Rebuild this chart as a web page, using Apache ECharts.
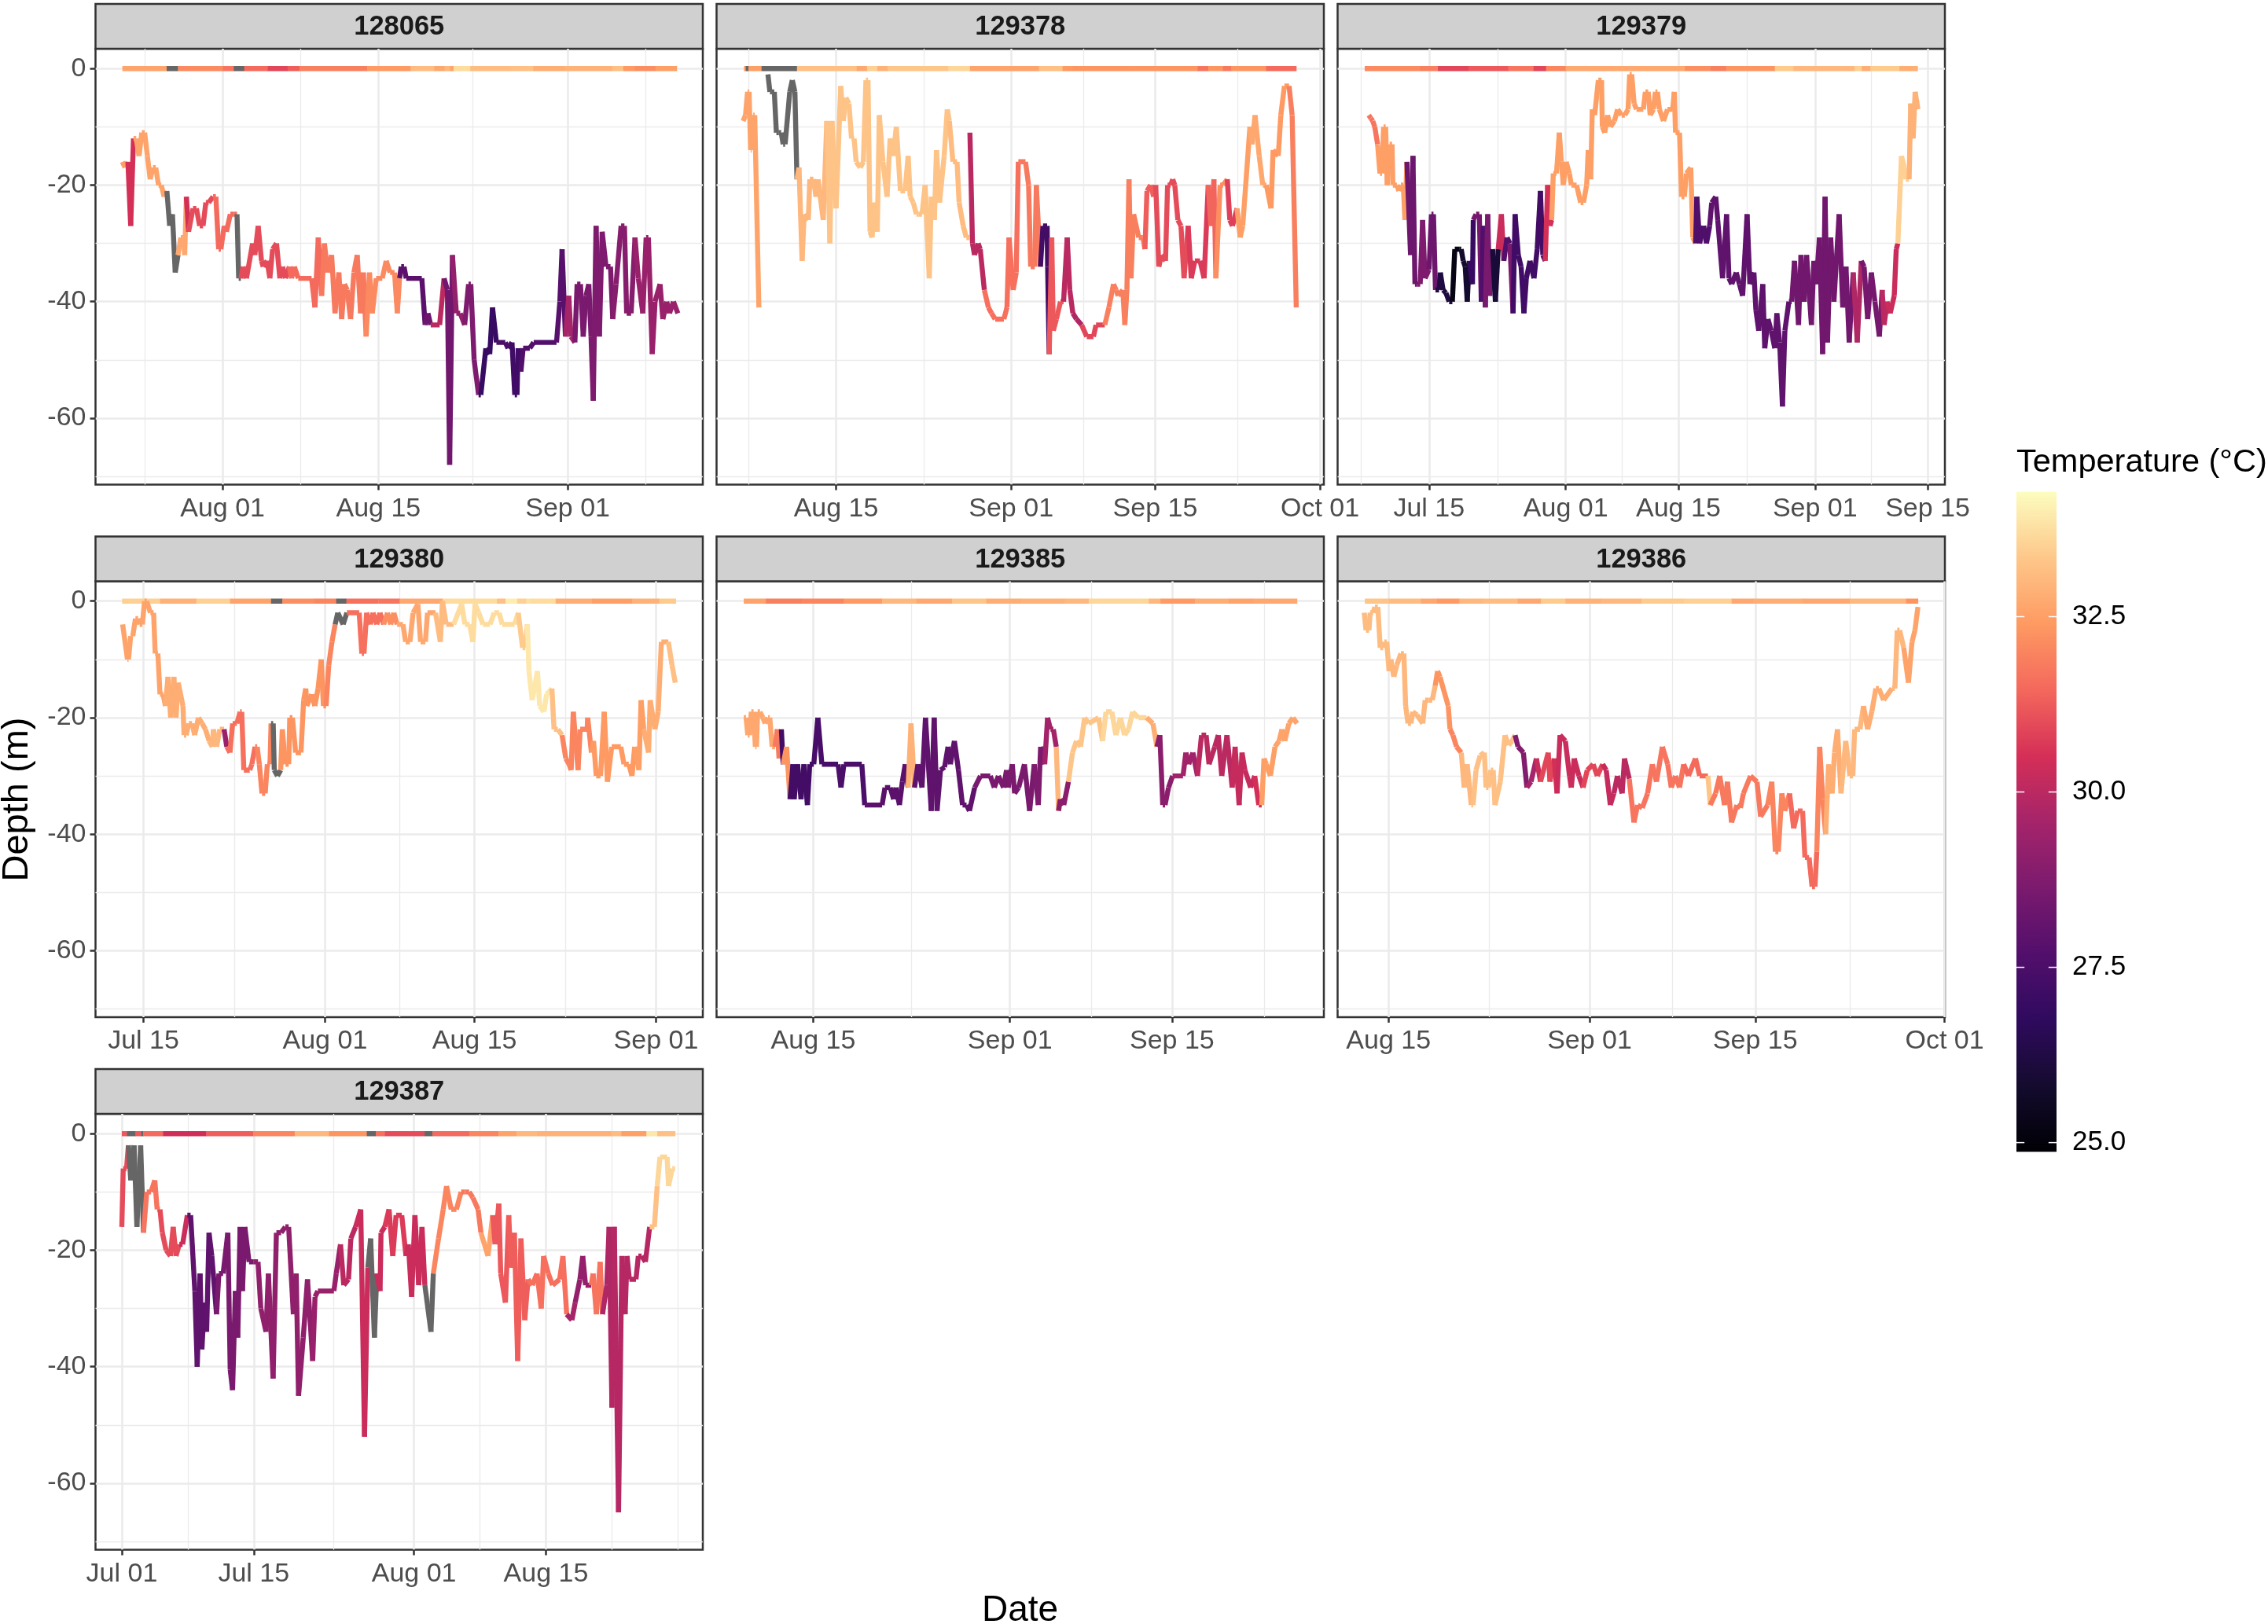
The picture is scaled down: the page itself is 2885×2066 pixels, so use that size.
<!DOCTYPE html>
<html>
<head>
<meta charset="utf-8">
<title>Depth and temperature tracks</title>
<script src="https://cdn.jsdelivr.net/npm/echarts@6/dist/echarts.min.js"></script>
<style>
  html, body { margin: 0; padding: 0; background: #fff; }
  #chart { width: 2885px; height: 2066px; }
</style>
</head>
<body>
<div id="chart"></div>
<script>
// x is days since Jul 01. each track is [day, depth], each run is [end day, temperature], null = no reading
const track128065 = [[22,-16],[22.25,-17],[22.5,-16],[22.75,-27],[23,-12],[23.25,-12],[23.5,-15],[23.75,-11],[24,-11],[24.25,-15],[24.5,-19],[24.75,-17],[25,-17],[25.25,-20],[25.5,-20],[25.75,-22],[26,-21],[26.25,-27],[26.5,-25],[26.75,-35],[27,-32],[27.25,-29],[27.5,-29],[27.6,-32],[27.75,-22],[27.95,-28],[28.35,-24],[28.65,-24],[28.95,-27],[29.25,-27],[29.5,-23],[29.75,-23],[30.15,-22],[30.4,-22],[30.65,-31],[30.85,-31],[31.15,-27],[31.35,-28],[31.7,-25],[32,-25],[32.3,-25],[32.45,-36],[32.65,-36],[32.85,-34],[33.15,-36],[33.7,-30],[33.9,-32],[34.2,-27],[34.5,-33],[34.65,-34],[35,-33],[35.25,-36],[35.5,-31],[35.85,-30],[36.15,-36],[36.4,-34],[36.65,-36],[37,-34],[37.2,-36],[37.45,-34],[37.8,-36],[39,-36],[39.3,-41],[39.6,-29],[39.9,-39],[40.15,-30],[40.45,-35],[40.8,-32],[41.1,-42],[41.45,-35],[41.7,-43],[41.95,-37],[42.2,-38],[42.5,-43],[42.8,-35],[43.1,-32],[43.4,-42],[43.65,-35],[43.9,-46],[44.2,-35],[44.45,-42],[44.8,-36],[45.35,-36],[45.7,-33],[46.05,-35],[46.45,-35],[46.7,-42],[46.9,-36],[47.05,-34],[47.3,-34],[47.5,-36],[48.9,-36],[49.2,-44],[49.45,-42],[49.7,-44],[50.5,-44],[50.9,-36],[51.2,-38],[51.4,-68],[51.65,-32],[52,-42],[52.35,-42],[52.75,-44],[53.1,-37],[53.3,-37],[53.6,-50],[54,-56],[54.2,-56],[54.65,-48],[55,-49],[55.25,-41],[55.6,-47],[56.4,-47],[56.65,-48],[57,-47],[57.25,-56],[57.45,-56],[57.55,-48],[57.8,-52],[58,-48],[58.6,-48],[58.95,-47],[61,-47],[61.3,-40],[61.5,-31],[61.8,-46],[62.1,-39],[62.3,-46],[62.65,-47],[62.85,-37],[63.15,-37],[63.4,-46],[63.65,-39],[63.9,-37],[64.1,-46],[64.3,-57],[64.55,-27],[64.85,-46],[65.1,-28],[65.45,-34],[65.85,-34],[66.05,-43],[66.35,-37],[66.8,-27],[67.1,-27],[67.3,-42],[67.7,-42],[68.05,-29],[68.35,-36],[68.75,-42],[69.05,-29],[69.25,-29],[69.6,-49],[69.85,-40],[70.3,-37],[70.55,-43],[70.9,-40],[71.15,-42],[71.5,-40],[71.9,-42]];
const temp128065 = [[22.6,32.5],[23,30.5],[25.9,32.6],[27,null],[27.7,32.7],[28.1,30.5],[30,31],[32.2,31.5],[32.7,null],[37,31],[40,31.5],[44,31.8],[46.9,32.1],[49.25,27.9],[49.8,28.3],[50.9,30],[51.7,28.4],[52.8,29.2],[54.05,28.7],[55.7,27],[57,27.5],[57.7,27.2],[61,27.7],[61.8,27.8],[62.7,29.6],[64,28.6],[66,28.7],[68,28.9],[72,29.3]];
const surface128065 = [[25.98,32.6],[27,null],[31,32.1],[32,31.7],[32.95,null],[35.06,31.5],[36.85,30.9],[37.9,31.3],[44,31.9],[47.9,32.4],[50,33.1],[50.95,32.7],[51.45,33],[51.75,32.6],[53.25,33.7],[56.95,33.1],[58.9,33.2],[61.8,32.8],[66,32.9],[67,33.2],[68,32.4],[69.9,32.2],[71.8,32.5]];

const track129378 = [[35.97,-9],[36.2,-8],[36.4,-4],[36.55,-4],[36.7,-14],[36.8,-14],[36.95,-8],[37.1,-8],[37.5,-41],[38,null],[38.38,-1],[38.57,-4],[38.77,-4],[39,-4],[39.2,-11],[39.43,-11],[39.67,-11],[39.86,-13],[40.05,-13],[40.5,-4],[40.75,-2],[41,-4],[41.2,-19],[41.4,-17],[41.7,-33],[41.9,-25],[42.3,-26],[42.45,-19],[42.8,-19],[43.05,-22],[43.25,-19],[43.75,-26],[44.1,-9],[44.4,-30],[44.6,-9],[45,-24],[45.45,-3],[45.7,-9],[45.95,-5],[46.25,-6],[46.5,-12],[46.75,-12],[46.95,-16],[47.35,-17],[47.65,-16],[47.9,-2],[48.1,-2],[48.3,-28],[48.5,-29],[48.7,-23],[49,-28],[49.2,-8],[49.55,-16],[49.95,-22],[50.25,-12],[50.55,-15],[50.85,-10],[51.25,-21],[51.7,-21],[52,-15],[52.2,-22],[52.5,-23],[52.8,-25],[53,-25],[53.35,-25],[53.65,-20],[54.05,-36],[54.25,-22],[54.55,-26],[54.75,-14],[55.05,-23],[55.5,-15],[55.8,-7],[56,-9],[56.35,-16],[56.75,-16],[56.95,-23],[57.35,-27],[57.65,-29],[57.95,-29],[57.99,null],[58,-11],[58.25,-30],[58.45,-32],[58.8,-30],[59,-31],[59.4,-38],[59.8,-41],[60.1,-42],[60.45,-43],[61.3,-43],[61.6,-41],[61.8,-29],[62.2,-38],[62.5,-35],[62.7,-16],[63.4,-16],[63.7,-20],[63.9,-34],[64.3,-34],[64.45,-20],[64.85,-34],[65.1,-27],[65.5,-27],[65.55,-34],[65.7,-49],[65.95,-29],[66.1,-45],[66.4,-43],[66.8,-40],[67.1,-40],[67.45,-29],[67.7,-38],[68,-42],[68.35,-43],[68.85,-44],[69.35,-46],[70,-46],[70.25,-44],[71.1,-44],[71.5,-41],[71.95,-37],[72.2,-38],[72.4,-39],[72.85,-38],[73.05,-44],[73.25,-38],[73.45,-19],[73.65,-36],[73.9,-25],[74.4,-29],[74.8,-29],[75,-31],[75.2,-21],[75.55,-20],[75.85,-22],[76.05,-20],[76.35,-34],[76.6,-32],[77,-33],[77.2,-20],[77.5,-20],[77.7,-19],[77.9,-20],[78.2,-26],[78.5,-27],[78.8,-36],[79.2,-27],[79.5,-36],[79.85,-33],[80.35,-33],[80.75,-36],[81.15,-20],[81.4,-27],[81.7,-19],[81.9,-36],[82.3,-20],[82.6,-20],[83,-19],[83.25,-26],[83.5,-27],[83.95,-24],[84.25,-29],[84.5,-27],[85.2,-10],[85.4,-13],[85.7,-8],[86.1,-15],[86.45,-20],[86.8,-20],[87.25,-24],[87.45,-14],[87.95,-15],[88.2,-8],[88.55,-3],[89,-3],[89.3,-8],[89.7,-41]];
const temp129378 = [[37.6,32.6],[41.2,null],[44,33],[56,33.25],[58,33.1],[59.2,30],[63,31.6],[64.9,31.8],[65.7,27.3],[67,31.2],[68,30],[69,29.8],[71,30.9],[75,31.9],[76,31.3],[79,31],[81,30.7],[82,31.4],[83,32.2],[84,30.8],[85,32.5],[87,32.7],[89,32.4],[90,31.9]];
const surface129378 = [[36.22,32.5],[36.5,null],[37.76,32.5],[41.2,null],[47,33.2],[48,32.7],[49,33.5],[50,32.9],[55.9,33.3],[58,33.6],[64.7,32.6],[67,33.2],[68,32.4],[73.8,32.3],[80.1,32.3],[81.15,31.7],[82.55,32.3],[83.4,31.8],[86.75,32.3],[89.7,31.5]];

const track129379 = [[6.5,-8],[6.75,-8.5],[7,-9],[7.25,-10],[7.6,-13],[7.9,-18],[8.15,-18],[8.35,-10],[8.6,-10],[8.8,-20],[9.1,-13],[9.4,-13],[9.5,-20],[10,-20],[10.25,-21],[10.5,-20],[10.8,-20],[11,-26],[11.25,-16],[11.7,-32],[12,-15],[12.25,-37],[12.5,-37],[12.9,-37],[13.2,-26],[13.5,-36],[14,-34.5],[14.3,-25],[14.55,-25],[14.8,-38],[15.25,-38],[15.4,-35],[15.75,-38],[16.1,-38.5],[16.5,-40],[16.9,-40],[17.2,-31],[17.75,-31],[18,-31],[18.25,-33],[18.5,-34],[18.75,-40],[19,-33],[19.4,-37],[19.5,-26],[19.85,-25],[20.25,-25],[20.5,-40],[20.75,-27],[21,-41],[21.3,-25],[21.55,-39],[21.9,-31],[22.25,-40],[22.6,-31],[23,-25],[23.3,-33],[23.7,-29],[24.05,-30],[24.45,-42],[24.7,-25],[25.1,-32],[25.45,-34],[25.8,-42],[26.1,-36],[26.55,-33],[27.05,-36],[27.45,-31],[27.85,-21],[28.15,-32],[28.45,-33],[28.75,-20],[29.05,-27],[29.25,-26],[29.45,-18],[29.85,-18],[30.2,-11],[30.45,-16],[30.7,-20],[31.05,-16],[31.45,-18],[31.7,-20],[32.35,-20],[32.85,-23],[33.2,-23],[33.6,-20],[33.8,-14],[34.1,-19],[34.3,-7],[34.6,-8],[35.05,-2],[35.45,-2],[35.55,-10],[35.85,-11],[36.2,-8],[36.55,-10],[37.05,-9],[37.45,-7],[37.95,-8],[38.35,-8],[38.75,-7],[38.95,-1],[39.2,-1],[39.5,-6],[39.8,-7],[40.65,-7],[40.9,-4],[41.25,-4],[41.5,-8],[41.9,-7],[42.15,-4],[42.4,-4],[42.65,-7],[43.15,-9],[43.65,-7],[44.3,-7],[44.5,-4],[44.65,-11],[45.15,-11],[45.4,-22],[45.75,-22],[46,-18],[46.55,-17],[46.8,-29],[47.15,-30],[47.3,-22],[47.65,-30],[48.15,-27],[48.5,-30],[48.9,-27],[49.15,-23],[49.65,-22],[49.9,-26],[50.5,-36],[51,-25],[51.3,-36],[51.65,-37],[52.2,-35],[52.6,-37],[53,-39],[53.55,-25],[53.9,-37],[54.4,-35],[54.65,-41.5],[55,-45],[55.5,-37],[55.75,-48],[56.15,-43],[56.55,-45],[57,-48],[57.25,-42],[57.6,-47],[57.95,-58],[58.25,-45],[58.75,-40],[59.1,-40],[59.45,-33],[59.95,-44],[60.25,-32],[60.65,-40],[60.95,-32],[61.55,-44],[61.85,-33],[62.15,-37],[62.55,-29],[62.95,-49],[63.25,-22],[63.55,-47],[63.95,-29],[64.35,-40],[65,-25],[65.45,-41],[65.85,-34],[66.25,-47],[66.75,-35],[67.25,-47],[67.75,-33],[68.1,-34],[68.55,-43],[69,-35],[69.45,-40],[70,-46],[70.35,-38],[70.6,-44],[70.95,-40],[71.35,-42],[71.85,-39],[72.1,-31],[72.3,-30],[72.75,-15],[73.1,-17],[73.3,-19],[73.7,-19],[73.9,-6],[74.2,-12],[74.45,-4],[74.8,-7]];
const temp129379 = [[7.5,31.7],[11.2,32.5],[12.5,28.3],[14,28.7],[15,28.3],[16.9,26.2],[18,25.2],[19,25.8],[19.5,27],[20.5,28.5],[21,27.6],[22,28.6],[22.6,26],[23.3,30.3],[24,27.7],[24.5,28.6],[27.5,27.2],[28.5,27.3],[29.2,30.5],[47.2,32.5],[49,27.6],[59,28],[66.7,28.4],[67.75,29.8],[70.3,28.5],[71,30],[72.3,30.3],[73.7,33.5],[75,32.9]];
const surface129379 = [[12.85,32.1],[15.1,31.9],[18.9,30.9],[23.85,31.2],[27,31.7],[28.55,30.9],[31,32],[45.8,32.7],[48.95,32.2],[51,31.9],[57,32.3],[59.3,33.4],[66.9,33],[67.8,33.5],[68.9,32.8],[72.5,33.4],[74.75,32.8]];

const track129380 = [[12.05,-4],[12.5,-10],[12.6,-10],[12.8,-6],[13,-6],[13.25,-3],[13.5,-3],[13.65,-4],[13.9,-4],[14.1,0],[14.3,0],[14.65,-2],[14.95,-2],[15.1,-9],[15.35,-9],[15.55,-16],[15.85,-16],[16.05,-18],[16.3,-13],[16.55,-20],[16.85,-13],[17.05,-20],[17.25,-14],[17.7,-18],[17.8,-23],[18,-23],[18.25,-21],[18.55,-21],[18.8,-23],[19.15,-20],[19.5,-21],[19.8,-22],[20.15,-24],[20.45,-25],[20.55,-22],[20.85,-25],[21.15,-22],[21.55,-22],[21.8,-25],[22.1,-26],[22.35,-21],[22.75,-21],[23.05,-19],[23.2,-19],[23.4,-29],[23.95,-29],[24.15,-28],[24.45,-25],[24.65,-25],[24.85,-28],[25.1,-33],[25.4,-33],[25.6,-28],[25.85,-28],[25.95,-21],[26.15,-21],[26.25,-29],[26.55,-30],[26.85,-29],[27,-22],[27.3,-28],[27.6,-28],[27.7,-20],[27.95,-20],[28.25,-26],[28.75,-26],[29,-17],[29.2,-15],[29.3,-18],[29.75,-16],[30.05,-18],[30.35,-15],[30.65,-10],[30.85,-18],[31.1,-18],[31.35,-11],[31.65,-7],[31.95,-4],[32.2,-2],[32.7,-4],[33.05,-2],[34.2,-2],[34.45,-9],[34.65,-9],[34.9,-2],[35.25,-4],[35.5,-2],[35.85,-4],[36.15,-2],[36.5,-4],[36.85,-2],[37.15,-4],[37.45,-2],[37.75,-4],[38.3,-4],[38.55,-7],[38.95,-7],[39.25,-2],[39.7,-0.5],[39.95,-7],[40.4,-7],[40.6,-2],[41.35,-2],[41.8,-7],[42,0],[42.35,-4],[43.05,-4],[43.8,-0.5],[44.1,-4],[44.55,-4],[44.85,-7],[45.05,-0.5],[45.4,-2],[45.8,-4],[46.45,-4],[46.85,-2],[47.3,-2],[47.6,-4],[48.75,-4],[49.1,-2],[49.5,-8],[49.75,-8],[49.95,-4],[50.1,-12],[50.4,-17],[50.6,-15],[50.9,-12],[51.1,-18],[51.5,-19],[51.75,-16],[52.25,-15],[52.45,-22],[52.8,-22],[53.2,-23],[53.55,-27],[53.85,-28],[54.05,-29],[54.25,-19],[54.7,-29],[54.9,-22],[55.55,-22],[55.6,-20],[55.95,-26],[56.15,-24],[56.4,-30],[56.8,-30],[57.15,-19],[57.45,-31],[57.85,-25],[58.7,-25],[59,-28],[59.45,-28],[59.75,-30],[60,-25],[60.4,-29],[60.6,-17],[60.85,-22],[61.3,-26],[61.45,-17],[61.9,-22],[62.2,-19],[62.5,-7],[63.15,-7],[63.5,-11],[63.8,-14]];
const temp129380 = [[16,32.6],[20,32.8],[21.6,33],[21.9,29.3],[24.5,31.6],[25.9,32],[26.85,null],[31,32.3],[31.9,32],[33,null],[36.5,31.6],[38,32.2],[41,32.7],[43,33.1],[49,33.7],[50,33.4],[52,33.9],[53,33.2],[53.7,32],[53.9,29.5],[56,32],[60,32.4],[61,32.5],[63,32.8],[64,33.2]];
const surface129380 = [[15.55,33.5],[18.95,32.9],[22.1,33.5],[25.95,32.6],[27,null],[30,32.2],[32.05,32],[33,null],[36,31.6],[38,31.7],[42,32.7],[47.1,33.7],[47.9,33.2],[49,34],[49.85,33.5],[50.25,33.8],[52.6,33.7],[56,32.8],[59.75,32.5],[62.3,32.9],[63.85,33.4]];

const track129385 = [[39,-20],[39.2,-20],[39.35,-23],[39.5,-23],[39.65,-19],[39.85,-19],[40,-25],[40.1,-25],[40.2,-19],[40.4,-19],[40.65,-20],[40.85,-21],[41.1,-20],[41.25,-20],[41.45,-25],[41.7,-25],[41.9,-22],[42.05,-27],[42.25,-22],[42.4,-28],[42.7,-25],[43,-34],[43.25,-28],[43.35,-34],[43.65,-28],[43.95,-34],[44.2,-28],[44.5,-35],[44.7,-28],[45.05,-28],[45.4,-20],[45.75,-28],[47.15,-28],[47.4,-32],[47.65,-28],[49.2,-28],[49.45,-35],[50.95,-35],[51.2,-32],[51.65,-32],[51.95,-34],[52.15,-32],[52.45,-35],[52.7,-31],[52.95,-28],[53.2,-32],[53.45,-21],[53.75,-32],[54.05,-28],[54.4,-32],[54.7,-20],[55.2,-36],[55.45,-20],[55.7,-36],[56,-29],[56.35,-28.5],[56.65,-25],[56.85,-28],[57.2,-24],[57.55,-29],[57.9,-35],[58.25,-35],[58.5,-36],[58.95,-32],[59.45,-30],[60.3,-30],[60.65,-32],[61,-30],[61.45,-32],[61.7,-29],[61.85,-32],[62.2,-28],[62.4,-33],[62.75,-32],[63.25,-28],[63.7,-36],[64.1,-28],[64.45,-35],[64.65,-25],[65,-28],[65.25,-20],[65.5,-22],[65.75,-22],[66,-25],[66.2,-36],[66.35,-34],[66.65,-35],[67.05,-31],[67.4,-26],[67.75,-24],[68.1,-25],[68.45,-20],[68.8,-21],[69.65,-20],[70,-24],[70.3,-19],[70.8,-19],[71.15,-23],[71.55,-20],[71.9,-23],[72.25,-22],[72.6,-19],[73.1,-20],[73.8,-20],[74.35,-21],[74.7,-25],[74.95,-23],[75.2,-35],[75.4,-35],[75.7,-32],[76.05,-30],[76.95,-30],[77.2,-26],[77.45,-28],[77.8,-26],[78.2,-30],[78.55,-23],[78.95,-23],[79.2,-28],[79.7,-25],[80,-23],[80.3,-30],[80.75,-23],[81.2,-32],[81.45,-25],[81.8,-35],[82.05,-26],[82.3,-29],[82.8,-32],[83.15,-30],[83.5,-35],[83.75,-35],[83.95,-27],[84.15,-28],[84.5,-30],[84.9,-25],[85.25,-24],[85.5,-22],[85.75,-24],[86.1,-21],[86.45,-20],[86.8,-21]];
const temp129385 = [[41.7,32.7],[42.2,31.8],[42.4,27.3],[43,32.3],[45,27.3],[47,27.4],[50,27.5],[53.2,27.9],[53.75,32.9],[58,28],[59,28],[64,28.6],[65,28.7],[66,29.5],[66.2,33],[67,29],[70,33.3],[74,33.6],[74.8,32.8],[76,29],[78,29.5],[81,30],[83,30.2],[83.8,30.5],[85,32.5],[87,32.6]];
const surface129385 = [[40.9,32.6],[44,31.9],[47.65,32],[50.95,32.4],[53.9,33],[57,32.7],[59.95,33.3],[63,32.8],[66.7,32.9],[68.8,33],[74,33.6],[75,33],[78,32.4],[80.9,32.8],[83,32.6],[86.8,32.7]];

const track129386 = [[42.95,-2],[43.1,-5],[43.35,-5],[43.45,-2],[43.7,-2],[43.85,-1],[44.1,-1],[44.3,-8],[44.55,-8],[44.65,-7],[44.85,-7],[45.05,-12],[45.2,-10],[45.45,-13],[45.7,-11],[46.05,-9],[46.3,-9],[46.45,-18],[46.65,-21],[46.9,-21],[47.05,-19],[47.4,-19.5],[47.9,-21],[48.1,-17],[48.4,-17],[48.7,-17],[48.95,-14.5],[49.15,-12],[49.35,-13],[50.05,-18],[50.2,-22],[50.45,-23],[50.75,-25],[51.15,-26],[51.4,-32],[51.65,-28],[52,-35],[52.15,-35],[52.4,-29],[52.75,-26.5],[53.1,-26],[53.25,-32],[53.45,-32],[53.65,-29],[53.85,-29],[54,-35],[54.45,-31],[54.85,-23],[55.15,-24.7],[55.45,-24],[55.7,-23],[55.95,-25],[56.4,-26],[56.7,-32],[57.05,-31],[57.5,-27],[57.85,-31],[58.5,-26],[58.65,-31],[59,-27],[59.25,-33],[59.5,-23],[59.95,-24],[60.3,-30],[60.45,-32],[60.7,-27],[61.1,-30],[61.45,-32],[61.8,-29],[62.3,-28],[62.65,-30],[63.1,-28],[63.4,-29],[63.75,-35],[64.05,-33],[64.35,-30],[64.75,-33],[64.95,-27],[65.35,-30.5],[65.75,-38],[66.05,-35],[66.45,-35.5],[66.9,-33],[67.3,-28],[67.65,-31],[68.15,-25],[68.6,-28],[68.9,-32],[69.25,-30],[69.6,-32],[69.95,-28],[70.35,-30],[70.95,-27],[71.3,-30],[72,-30],[72.2,-35],[72.65,-33],[73,-30],[73.4,-35],[73.65,-31],[74,-38],[74.45,-35],[74.75,-35.5],[75,-33],[75.6,-30],[76.15,-31],[76.45,-37],[77.05,-35],[77.4,-31],[77.7,-43],[77.95,-43],[78.25,-33],[78.5,-36],[78.9,-33],[79.25,-39],[79.6,-36],[80,-36],[80.2,-44],[80.55,-44],[80.8,-49],[81.05,-49],[81.2,-43],[81.45,-25],[81.7,-34],[81.95,-40],[82.2,-28],[82.5,-33],[82.7,-26],[82.95,-22],[83.25,-33],[83.65,-24],[84,-30],[84.25,-30],[84.4,-22],[84.85,-22],[85.15,-18],[85.5,-22],[85.85,-19],[86.2,-15],[86.45,-15],[86.85,-17],[87.55,-15],[87.8,-15],[88,-5],[88.2,-5],[88.55,-8],[88.95,-14],[89.25,-7],[89.5,-5],[89.75,-1]];
const temp129386 = [[45,33.1],[49,33],[50.2,32.3],[51,32],[52,33],[55.6,33.2],[56.7,28.8],[57.5,29.6],[58,30.3],[59,30.9],[59.3,30.5],[61.5,30.3],[63,30.9],[64,30.2],[65.3,30],[70,31.7],[72,31.5],[72.4,33.3],[77,31.8],[79,32],[81.3,31.5],[82,32],[83.3,32.8],[85,33],[87.5,32.8],[88.5,33],[90,32.6]];
const surface129386 = [[45,33.3],[47.75,33.1],[49.1,32.7],[51,32.4],[53,33],[55.9,33.1],[57.9,32.7],[59.95,33.4],[63,32.9],[66.4,33],[70,33.4],[74,33.5],[75.85,32.7],[80,32.8],[84,32.7],[88.75,33],[89.75,32.3]];

const track129387 = [[0,-16],[0.15,-6],[0.5,-6],[0.7,-2],[0.95,-8],[1.3,-2],[1.6,-16],[2,-2],[2.3,-17],[2.65,-10],[3.1,-10],[3.5,-8],[3.75,-13],[4.05,-13],[4.3,-17],[4.7,-20],[5.15,-21],[5.45,-16],[5.75,-21],[6.1,-19],[6.45,-19],[6.95,-14],[7.3,-14],[7.75,-27],[8,-40],[8.3,-24],[8.5,-37],[8.75,-29],[9,-34],[9.25,-17],[9.55,-21],[10.05,-31],[10.3,-24],[10.75,-24],[11.25,-17],[11.5,-40.5],[11.75,-44],[12.05,-27],[12.3,-35],[12.55,-16],[12.8,-27],[13.05,-16],[13.5,-22],[14,-22],[14.45,-22],[14.75,-30],[15.3,-34],[15.55,-24],[16.05,-42],[16.4,-17],[16.9,-17],[17.35,-16],[17.7,-16],[18.2,-31],[18.5,-24],[18.75,-45],[19.25,-35],[19.7,-25],[20.25,-39],[20.5,-28],[20.8,-27],[22.5,-27],[22.75,-24],[23.2,-19],[23.55,-26],[24.05,-25],[24.3,-18],[24.8,-16],[25.35,-13],[25.75,-52],[26.1,-23],[26.4,-18],[26.8,-35],[27.05,-24],[27.4,-27],[27.5,-17],[27.9,-16],[28.35,-13],[28.75,-21],[29.1,-14],[29.7,-14],[30.15,-21],[30.4,-19],[30.75,-28],[31.1,-14],[31.5,-26],[31.85,-16],[32.15,-26],[32.8,-34],[33.05,-24],[33.6,-18],[34.1,-13],[34.45,-9],[34.95,-13],[35.5,-13],[36,-10],[36.4,-10],[36.85,-10],[37.25,-11],[37.8,-13],[38.1,-17],[38.85,-21],[39.35,-14],[39.6,-19],[40,-12],[40.2,-24],[40.7,-29],[41.05,-14],[41.3,-23],[41.65,-17],[42,-39],[42.35,-18],[42.75,-32],[43.1,-25],[43.55,-26],[44.05,-24],[44.5,-30],[44.75,-21],[45.25,-24],[45.7,-26],[46.45,-25],[46.8,-21],[47.2,-31],[47.75,-32],[48.1,-29],[48.6,-25],[48.9,-21],[49.2,-26],[49.8,-26],[50,-24],[50.35,-31],[50.75,-22],[51,-31],[51.45,-26],[51.7,-16],[52,-47],[52.25,-16],[52.7,-65],[53.05,-21],[53.4,-31],[53.6,-21],[53.85,-25],[54.55,-25],[54.8,-21],[55.15,-21],[55.55,-22],[56,-16],[56.5,-16],[56.8,-9],[57.1,-4],[57.85,-4],[58,-9],[58.4,-6],[58.7,-6]];
const temp129387 = [[0.7,31],[2.3,null],[4,31.7],[6,31],[7,30.3],[10,28],[14,28.6],[20,29.1],[23,29.3],[25,30],[26.1,30.3],[27,null],[28,30.3],[30,30.7],[32.2,30.3],[33,null],[36,32],[38,31.8],[39.3,32.6],[41,31.2],[43,31.3],[47,31.6],[48,29.6],[49.8,29.2],[51,31.7],[52,29.8],[56,29.9],[56.8,33.2],[58.7,33.6]];
const surface129387 = [[0.54,31.2],[1.42,null],[2.07,31.2],[2.26,null],[4.37,31.5],[8.96,30.4],[13.94,31.3],[18.34,32],[21.98,33],[25.99,32.3],[26.95,null],[27.9,31.6],[32.12,31],[32.96,null],[36.9,31.5],[39.97,32],[41.88,32.6],[43.99,33],[52,32.9],[52.98,33.1],[55.66,32.5],[56.81,33.9],[58.7,33.2]];

// axis limits, breaks and surface start of each panel, in days
const tagNames = ['128065', '129378', '129379', '129380', '129385', '129386', '129387'];
const xLimits = [[19.59, 74.14], [33.39, 92.38], [2.63, 78.15], [9.51, 66.38], [36.65, 89.12], [40.7, 92.03], [-2.79, 61.64]];
const xBreaks = [[31, 45, 62], [45, 62, 76, 92], [14, 31, 45, 62, 76], [14, 31, 45, 62], [45, 62, 76], [45, 62, 76, 92], [0, 14, 31, 45]];
const xMinorBreaks = [[24, 38, 53.5, 69], [36.5, 53.5, 69, 84], [5.5, 22.5, 38, 53.5, 69], [22.5, 38, 53.5], [53.5, 69, 84], [53.5, 69, 84], [7, 22.5, 38, 52, 59]];
const surfaceStarts = [22, 36.05, 6, 12, 39, 43, 0];
const tracks = [track128065, track129378, track129379, track129380, track129385, track129386, track129387];
const temps = [temp128065, temp129378, temp129379, temp129380, temp129385, temp129386, temp129387];
const surfaces = [surface128065, surface129378, surface129379, surface129380, surface129385, surface129386, surface129387];

const dateLabels = { 0: 'Jul 01', 14: 'Jul 15', 31: 'Aug 01', 45: 'Aug 15', 62: 'Sep 01', 76: 'Sep 15', 92: 'Oct 01' };
const depthTicks = [-60, -40, -20, 0];
const depthMinor = [-70, -50, -30, -10];
const depthLimits = [-71.4, 3.4];
const legendTicks = [25, 27.5, 30, 32.5];
const legendLimits = [24.87, 34.28];

const magma = ['#000004', '#140b2e', '#2f0a5e', '#520f6c', '#7b1a6e', '#a5246a', '#d52f57', '#f4685c', '#fe9a62', '#fec78a', '#fcfdbf'];
const noData = '#666666';
const font = '"Liberation Sans", Arial, sans-serif';

function tempColor(t) {
  if (t === null) return noData;
  const pos = (t - legendLimits[0]) / (legendLimits[1] - legendLimits[0]);
  return echarts.color.lerp(Math.max(0, Math.min(1, pos)), magma);
}

function tempAt(runs, day) {
  for (const r of runs) {
    if (day <= r[0]) return r[1];
  }
  return runs[runs.length - 1][1];
}

const colLeft = [121.5, 911.5, 1701.5];
const rowTop = [62, 739.5, 1417];
const panelW = 772.5;
const panelH = 554.5;
const stripH = 57;

const grid = [];
const xAxis = [];
const yAxis = [];
const series = [];
const graphic = [];

tagNames.forEach((tag, i) => {
  const left = colLeft[i % 3];
  const top = rowTop[Math.floor(i / 3)];
  grid.push({
    left, top, width: panelW, height: panelH, show: true,
    backgroundColor: '#fff', borderColor: '#333', borderWidth: 2.5
  });
  const g = grid.length - 1;
  const a = xAxis.length;

  xAxis.push({
    type: 'value', gridIndex: g, min: xLimits[i][0], max: xLimits[i][1],
    axisLine: { show: false, onZero: false },
    axisTick: { show: true, length: 7, lineStyle: { color: '#333', width: 2.5 }, customValues: xBreaks[i] },
    axisLabel: {
      show: true, margin: 14, color: '#4d4d4d', fontSize: 34, fontFamily: font,
      customValues: xBreaks[i], formatter: v => dateLabels[v]
    },
    splitLine: { show: true, lineStyle: { color: '#ebebeb', width: 2.6 } }
  });
  xAxis.push({
    type: 'value', gridIndex: g, min: xLimits[i][0], max: xLimits[i][1],
    axisLine: { show: false, onZero: false },
    axisTick: { show: false, customValues: xMinorBreaks[i] },
    axisLabel: { show: false, customValues: xMinorBreaks[i] },
    splitLine: { show: true, lineStyle: { color: '#ebebeb', width: 1.3 } }
  });

  const showY = i % 3 === 0;
  yAxis.push({
    type: 'value', gridIndex: g, min: depthLimits[0], max: depthLimits[1],
    axisLine: { show: false, onZero: false },
    axisTick: { show: showY, length: 7, lineStyle: { color: '#333', width: 2.5 }, customValues: depthTicks },
    axisLabel: {
      show: showY, margin: 12, color: '#4d4d4d', fontSize: 34, fontFamily: font,
      padding: [3, 0, 0, 0], customValues: depthTicks
    },
    splitLine: { show: true, lineStyle: { color: '#ebebeb', width: 2.6 } }
  });
  yAxis.push({
    type: 'value', gridIndex: g, min: depthLimits[0], max: depthLimits[1],
    axisLine: { show: false, onZero: false },
    axisTick: { show: false, customValues: depthMinor },
    axisLabel: { show: false, customValues: depthMinor },
    splitLine: { show: true, lineStyle: { color: '#ebebeb', width: 1.3 } }
  });

  // surface band along y = 0
  let from = surfaceStarts[i];
  const bandData = surfaces[i].map(r => {
    const row = [from, r[0], r[1]];
    from = r[0];
    return row;
  });
  series.push({
    type: 'custom', xAxisIndex: a, yAxisIndex: a, silent: true, animation: false,
    clip: true, encode: { x: [0, 1] }, data: bandData,
    renderItem: (params, api) => {
      const p0 = api.coord([api.value(0), 0]);
      const p1 = api.coord([api.value(1), 0]);
      const t = bandData[params.dataIndex][2];
      return {
        type: 'rect',
        shape: { x: p0[0], y: p0[1] - 3.2, width: p1[0] - p0[0] + 0.4, height: 6.4 },
        style: { fill: tempColor(t) }
      };
    }
  });

  // dive track, one segment per pair of points so each can take its own colour
  const segs = [];
  tracks[i].forEach((pt, k) => {
    const next = tracks[i][k + 1];
    if (!next || pt[1] === null || next[1] === null) return;
    segs.push([pt[0], pt[1], next[0], next[1], tempAt(temps[i], (pt[0] + next[0]) / 2)]);
  });
  series.push({
    type: 'custom', xAxisIndex: a, yAxisIndex: a, silent: true, animation: false,
    clip: true, encode: { x: [0, 2], y: [1, 3] }, data: segs,
    renderItem: (params, api) => {
      const s = segs[params.dataIndex];
      const p0 = api.coord([s[0], s[1]]);
      const p1 = api.coord([s[2], s[3]]);
      return {
        type: 'line',
        shape: { x1: p0[0], y1: p0[1], x2: p1[0], y2: p1[1] },
        style: { stroke: tempColor(s[4]), lineWidth: 6.4, lineCap: 'butt' }
      };
    }
  });

  graphic.push({
    type: 'rect', silent: true,
    shape: { x: left, y: top - stripH, width: panelW, height: stripH },
    style: { fill: '#d0d0d0', stroke: '#333', lineWidth: 2.5 }
  });
  graphic.push({
    type: 'text', silent: true, x: left + panelW / 2, y: top - stripH / 2 + 1,
    style: {
      text: tag, fill: '#1a1a1a', font: 'bold 34.5px ' + font,
      textAlign: 'center', textVerticalAlign: 'middle'
    }
  });
});

// colour bar, on its own little axis so the ticks land on real temperatures
const barGrid = grid.length;
grid.push({ left: 2565, top: 625.7, width: 51, height: 839.5 });
const barAxis = xAxis.length;
xAxis.push({ type: 'value', gridIndex: barGrid, min: 0, max: 1, show: false });
yAxis.push({
  type: 'value', gridIndex: barGrid, position: 'right', min: legendLimits[0], max: legendLimits[1],
  axisLine: { show: false, onZero: false },
  axisTick: { show: false, customValues: legendTicks },
  axisLabel: {
    show: true, margin: 20, color: '#000', fontSize: 35, fontFamily: font,
    padding: [3, 0, 0, 0], customValues: legendTicks, formatter: v => v.toFixed(1)
  },
  splitLine: { show: false }
});
const barStops = magma.map((c, k) => ({ offset: 1 - k / (magma.length - 1), color: c })).reverse();
series.push({
  type: 'custom', xAxisIndex: barAxis, yAxisIndex: barAxis, silent: true, animation: false,
  clip: false, data: [[0]],
  renderItem: (params, api) => {
    const a = api.coord([0, legendLimits[1]]);
    const b = api.coord([1, legendLimits[0]]);
    const w = b[0] - a[0];
    const kids = [{
      type: 'rect',
      shape: { x: a[0], y: a[1], width: w, height: b[1] - a[1] },
      style: { fill: new echarts.graphic.LinearGradient(0, 0, 0, 1, barStops) }
    }];
    legendTicks.forEach(t => {
      const y = api.coord([0, t])[1];
      kids.push({ type: 'line', shape: { x1: a[0], y1: y, x2: a[0] + w / 5, y2: y }, style: { stroke: '#fff', lineWidth: 1.5 } });
      kids.push({ type: 'line', shape: { x1: b[0] - w / 5, y1: y, x2: b[0], y2: y }, style: { stroke: '#fff', lineWidth: 1.5 } });
    });
    return { type: 'group', children: kids };
  }
});

graphic.push({
  type: 'text', silent: true, x: 1297.5, y: 2049,
  style: { text: 'Date', fill: '#000', font: '46px ' + font, textAlign: 'center', textVerticalAlign: 'middle' }
});
graphic.push({
  type: 'text', silent: true, x: 22, y: 1017, rotation: Math.PI / 2,
  style: { text: 'Depth (m)', fill: '#000', font: '47px ' + font, textAlign: 'center', textVerticalAlign: 'middle' }
});
graphic.push({
  type: 'text', silent: true, x: 2565, y: 589,
  style: { text: 'Temperature (°C)', fill: '#000', font: '41.5px ' + font, textAlign: 'left', textVerticalAlign: 'middle' }
});

const chart = echarts.init(document.getElementById('chart'));
chart.setOption({
  animation: false,
  backgroundColor: '#fff',
  textStyle: { fontFamily: font },
  grid, xAxis, yAxis, series,
  graphic: { elements: graphic }
});
</script>
</body>
</html>
